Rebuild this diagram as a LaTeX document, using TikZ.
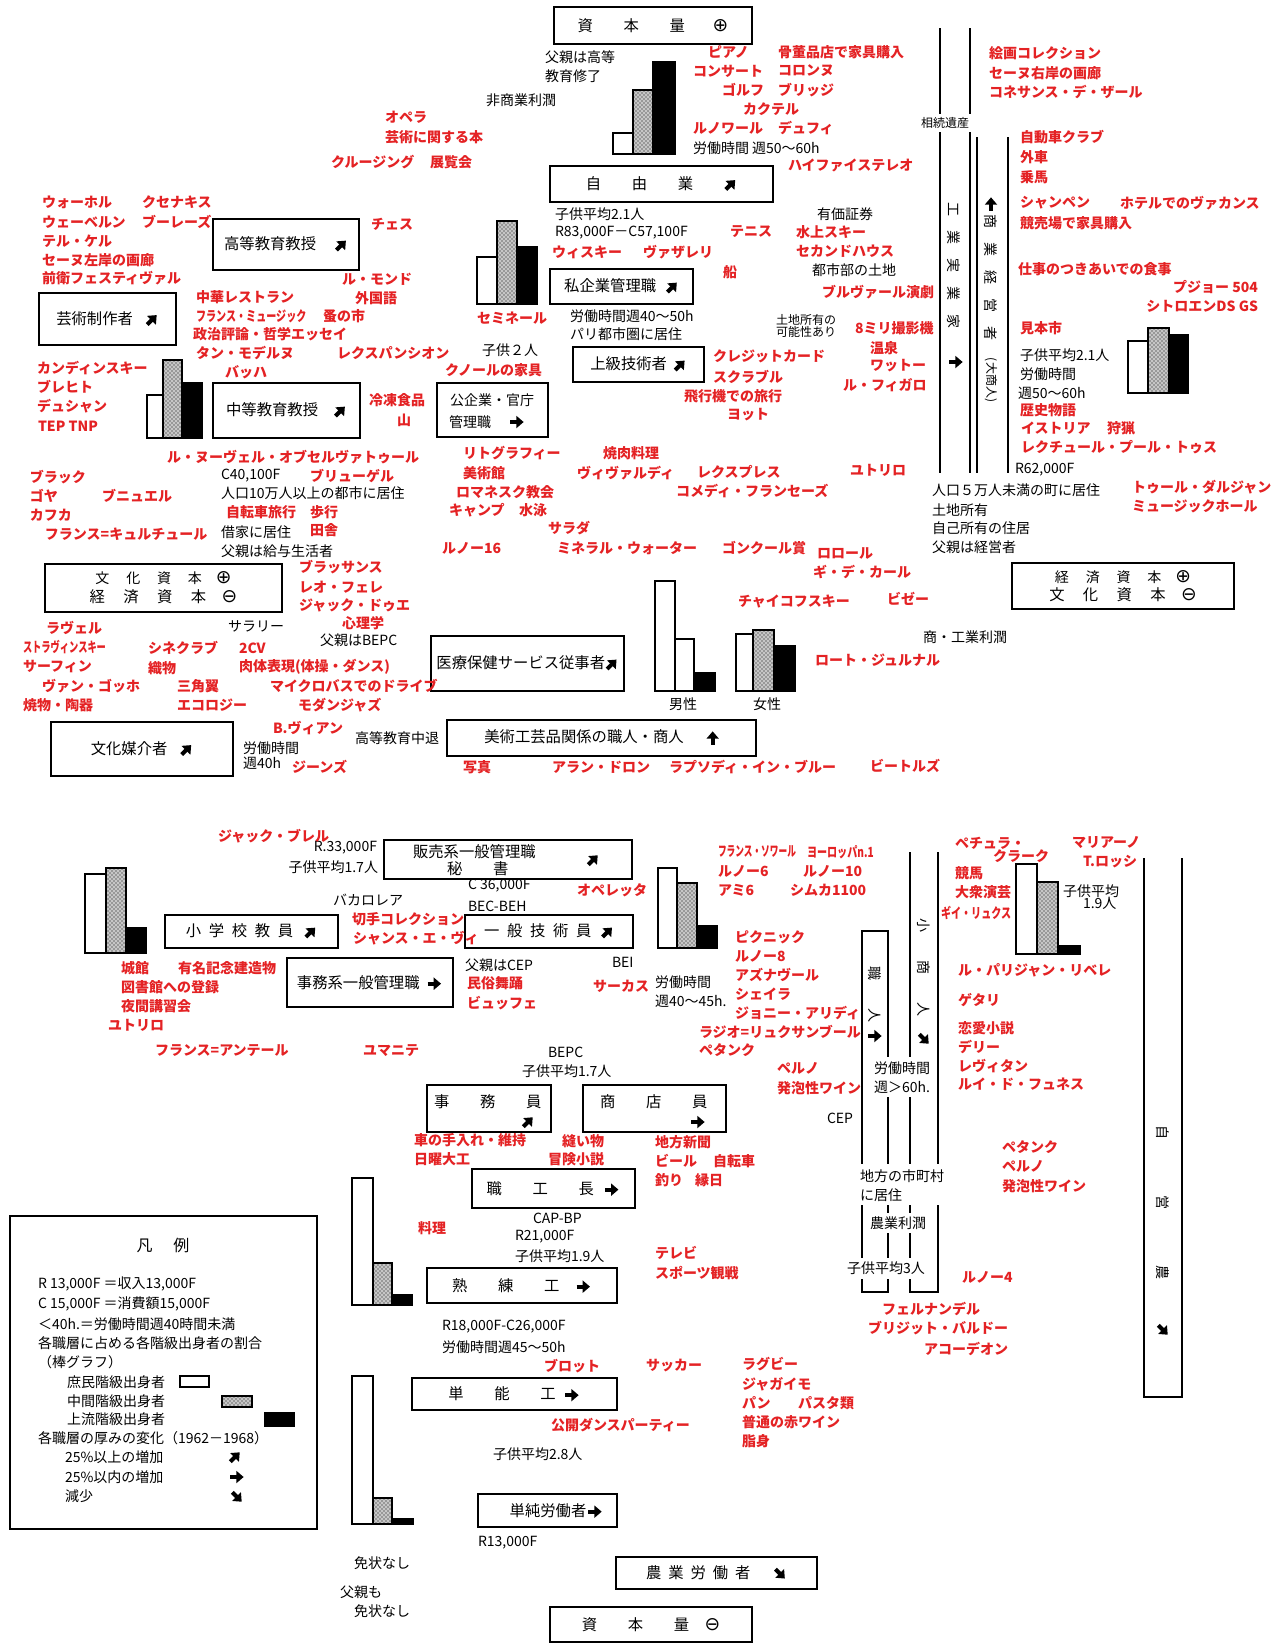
\documentclass[tikz,border=0pt]{standalone}
\usepackage{fontspec}
\setmainfont{Noto Sans CJK JP}
\newfontfamily\djv{DejaVu Sans}
\usepackage{graphicx}
\usetikzlibrary{arrows.meta,patterns}
\definecolor{jred}{RGB}{228,34,36}
\newcommand\rfont{\fontsize{10.5}{12}\selectfont\bfseries}
\newcommand\kfont{\fontsize{10.5}{12}\selectfont}
\newcommand\bxfont{\fontsize{11.5}{14}\selectfont}
\tikzset{
  every node/.style={inner sep=0pt, outer sep=0pt},
  rt/.style={anchor=west, text=jred, font=\rfont},
  kt/.style={anchor=west, text=black, font=\kfont},
  bt/.style={anchor=west, text=black, font=\bxfont},
  bx/.style={draw, line width=1.1pt, font=\bxfont, align=center},
  vlab/.style={rotate=-90, font=\kfont},
  barW/.style={draw, line width=1pt, fill=white},
  barD/.style={draw, line width=1pt, fill=gray!45, postaction={pattern=crosshatch dots}},
  barB/.style={draw, line width=1pt, fill=black},
  vl/.style={line width=1.1pt},
  fatar/.style={line width=3pt, -{Triangle[length=5.5pt,width=9pt]}, black},
  wfill/.style={fill=white, inner sep=1pt}
}
\newcommand\arNE{\tikz[baseline=-0.55ex]\draw[fatar] (225:5pt) -- (45:5pt);}
\newcommand\arE{\tikz[baseline=-0.55ex]\draw[fatar] (180:5pt) -- (0:5pt);}
\newcommand\arSE{\tikz[baseline=-0.55ex]\draw[fatar] (135:5pt) -- (-45:5pt);}
\newcommand\arN{\tikz[baseline=-0.55ex]\draw[fatar] (270:5pt) -- (90:5pt);}
\newcommand\oplu{{\djv\fontsize{14}{14}\selectfont ⊕}}
\newcommand\omin{{\djv\fontsize{14}{14}\selectfont ⊖}}
\newcounter{tn}
\newcommand\rtx[3]{\stepcounter{tn}\node[rt] (t\arabic{tn}) at (#1,#2) {#3};}
\newcommand\ktx[3]{\stepcounter{tn}\node[kt] (t\arabic{tn}) at (#1,#2) {#3};}
\newcommand\btx[3]{\stepcounter{tn}\node[bt] (t\arabic{tn}) at (#1,#2) {#3};}
\newcommand\rtxe[3]{\stepcounter{tn}\node[rt,anchor=east] (t\arabic{tn}) at (#1,#2) {#3};}
\newcommand\ktxe[3]{\stepcounter{tn}\node[kt,anchor=east] (t\arabic{tn}) at (#1,#2) {#3};}
\newcommand\ktxc[3]{\stepcounter{tn}\node[kt,anchor=center] (t\arabic{tn}) at (#1,#2) {#3};}
\newcommand\arw[3]{\stepcounter{tn}\node (a\arabic{tn}) at (#1,#2) {#3};}
\newcommand\cnd[2]{\scalebox{#1}[1]{#2}}
\newcommand\bxn[6]{\node[bx, minimum width={(#4-#2)*0.75pt}, minimum height={(#5-#3)*0.75pt}] (#1) at ({(#2+#4)/2},{(#3+#5)/2}) {#6};}
\newcommand\gap[1]{\hspace{#1em}}
\begin{document}
\begin{tikzpicture}[x=0.75pt,y=-0.75pt]
\fill[white] (0,0) rectangle (1275,1643);
\useasboundingbox (0,0) rectangle (1275,1643);

% ---------------- boxes ----------------
\bxn{capP}{554}{7}{752}{44}{資\gap2本\gap2量\gap{1.8}\oplu}
\bxn{jiyu}{550}{166}{773}{202}{自\gap2由\gap2業\gap2\arNE}
\bxn{shikig}{550}{269}{693}{304}{私企業管理職\gap{0.6}\arNE}
\bxn{koto}{213}{219}{359}{270}{高等教育教授\gap{1.2}\arNE}
\bxn{geij}{39}{293}{176}{345}{芸術制作者\gap{0.8}\arNE}
\bxn{chuto}{213}{383}{360}{438}{中等教育教授\gap{1}\arNE}
\bxn{jokyu}{573}{347}{704}{382}{上級技術者\gap{0.4}\arNE}
\bxn{koki}{437}{383}{548}{437}{}
\ktx{450}{400}{公企業・官庁}
\ktx{449}{422}{管理職}
\arw{517}{422}{\arE}
\bxn{bunkaP}{45}{564}{282}{612}{\fontsize{10.5}{19}\selectfont 文\gap{1.2}化\gap{1.2}資\gap{1.2}本\gap{1}\oplu\\ 経\gap{1.2}済\gap{1.2}資\gap{1.2}本\gap{1}\omin}
\bxn{keizaiP}{1012}{563}{1234}{609}{\fontsize{10.5}{19}\selectfont 経\gap{1.2}済\gap{1.2}資\gap{1.2}本\gap{1}\oplu\\ 文\gap{1.2}化\gap{1.2}資\gap{1.2}本\gap{1}\omin}
\bxn{iryo}{431}{636}{624}{691}{医療保健サービス従事者\arNE}
\bxn{bijutsu}{447}{720}{756}{756}{美術工芸品関係の職人・商人\gap{1.5}\arN}
\bxn{baikai}{51}{722}{233}{776}{文化媒介者\gap{0.8}\arNE}
\bxn{hanbai}{384}{840}{632}{879}{}
\btx{413}{852}{販売系一般管理職}
\btx{447}{869}{秘\gap2書}
\arw{593}{860}{\arNE}
\bxn{shogaku}{165}{915}{338}{948}{小\gap{0.5}学\gap{0.5}校\gap{0.5}教\gap{0.5}員\gap{0.7}\arNE}
\bxn{ippan}{465}{915}{633}{948}{一\gap{0.5}般\gap{0.5}技\gap{0.5}術\gap{0.5}員\gap{0.6}\arNE}
\bxn{jimukei}{287}{958}{453}{1007}{事務系一般管理職\gap{0.4}\arE}
\bxn{jimuin}{427}{1085}{551}{1132}{}
\btx{434}{1102}{事\gap2務\gap2員}
\arw{528}{1122}{\arNE}
\bxn{shoten}{583}{1085}{726}{1132}{}
\btx{600}{1102}{商\gap2店\gap2員}
\arw{698}{1122}{\arE}
\bxn{shokko}{472}{1169}{635}{1208}{職\gap2工\gap2長\gap{0.6}\arE}
\bxn{jukuren}{427}{1268}{617}{1303}{熟\gap2練\gap2工\gap1\arE}
\bxn{tanno}{412}{1378}{617}{1410}{単\gap2能\gap2工\gap{0.5}\arE}
\bxn{tanjun}{478}{1494}{617}{1527}{\gap{1.2}単純労働者\arE}
\bxn{nogyo}{616}{1557}{817}{1589}{農\gap{.45}業\gap{.45}労\gap{.45}働\gap{.45}者\gap{1.5}\arSE}
\bxn{capM}{550}{1607}{752}{1642}{資\gap2本\gap2量\gap1\omin}

% ---------------- legend ----------------
\bxn{legend}{10}{1216}{317}{1529}{}
\stepcounter{tn}\node[font=\fontsize{12}{14}\selectfont] (t\arabic{tn}) at (163,1245) {凡\gap{1.3}例};
\ktx{38}{1284}{R 13,000F ＝収入13,000F}
\ktx{38}{1304}{C 15,000F ＝消費額15,000F}
\ktx{38}{1324}{＜40h.＝労働時間週40時間未満}
\ktx{38}{1343}{各職層に占める各階級出身者の割合}
\ktx{38}{1362}{（棒グラフ）}
\ktx{67}{1382}{庶民階級出身者}
\ktx{67}{1401}{中間階級出身者}
\ktx{67}{1419}{上流階級出身者}
\draw[barW] (180,1376) rectangle (209,1387);
\draw[barD] (222,1396) rectangle (252,1407);
\draw[barB] (265,1413) rectangle (294,1426);
\ktx{38}{1438}{各職層の厚みの変化（1962－1968）}
\ktx{65}{1457}{25\%以上の増加}
\ktx{65}{1477}{25\%以内の増加}
\ktx{65}{1496}{減少}
\arw{235}{1457}{\arNE}
\arw{237}{1477}{\arE}
\arw{237}{1497}{\arSE}

% ---------------- bar charts ----------------
\draw[barW] (147,395) rectangle (163,438);
\draw[barD] (163,360) rectangle (182,438);
\draw[barB] (182,383) rectangle (202,438);
\draw[barW] (613,133) rectangle (633,154);
\draw[barD] (633,90) rectangle (653,154);
\draw[barB] (653,62) rectangle (675,154);
\draw[barW] (477,257) rectangle (497,304);
\draw[barD] (497,221) rectangle (517,304);
\draw[barB] (517,247) rectangle (537,304);
\draw[barW] (1128,341) rectangle (1148,393);
\draw[barD] (1148,328) rectangle (1169,393);
\draw[barB] (1169,335) rectangle (1188,393);
\draw[barW] (655,581) rectangle (675,691);
\draw[barW] (675,639) rectangle (694,691);
\draw[barB] (694,673) rectangle (715,691);
\draw[barW] (736,634) rectangle (753,691);
\draw[barD] (753,630) rectangle (774,691);
\draw[barB] (774,646) rectangle (795,691);
\draw[barW] (85,874) rectangle (106,953);
\draw[barD] (106,868) rectangle (126,953);
\draw[barB] (126,928) rectangle (146,953);
\draw[barW] (658,868) rectangle (677,948);
\draw[barD] (677,883) rectangle (697,948);
\draw[barB] (697,926) rectangle (717,948);
\draw[barW] (1016,864) rectangle (1037,954);
\draw[barD] (1037,882) rectangle (1058,954);
\draw[barB] (1058,946) rectangle (1080,954);
\draw[barW] (352,1178) rectangle (373,1305);
\draw[barD] (373,1263) rectangle (392,1305);
\draw[barB] (392,1295) rectangle (412,1305);
\draw[barW] (352,1376) rectangle (373,1524);
\draw[barD] (373,1498) rectangle (392,1524);
\draw[barB] (392,1519) rectangle (413,1524);

% ---------------- vertical columns ----------------
\draw[vl] (940,28) -- (940,473);
\draw[vl] (970,28) -- (970,473);
\draw[vl] (977,137) -- (977,473);
\draw[vl] (1008,137) -- (1008,473);
\fill[white] (916,114) rectangle (974,132);
\ktxc{945}{123}{\fontsize{9}{10}\selectfont 相続遺産}
\stepcounter{tn}\node[vlab] (t\arabic{tn}) at (954,265) {工　業　実　業　家};
\arw{956}{362}{\arE}
\arw{991}{204}{\arN}
\stepcounter{tn}\node[vlab] (t\arabic{tn}) at (991,277) {商　業　経　営　者};
\stepcounter{tn}\node[vlab,font=\fontsize{9}{10}\selectfont] (t\arabic{tn}) at (991,380) {(大商人)};

\draw[vl] (862,931) rectangle (888,1292);
\draw[vl] (910,852) -- (910,1292) -- (938,1292) -- (938,852);
\draw[vl] (1144,858) -- (1144,1397) -- (1182,1397) -- (1182,858);
\stepcounter{tn}\node[vlab] (t\arabic{tn}) at (875,994) {職　　人};
\arw{875}{1036}{\arE}
\stepcounter{tn}\node[vlab] (t\arabic{tn}) at (924,967) {小　　商　　人};
\arw{924}{1039}{\arSE}
\stepcounter{tn}\node[vlab] (t\arabic{tn}) at (1163,1202) {自　　　　営　　　　農};
\arw{1163}{1330}{\arSE}
\fill[white] (872,1057) rectangle (932,1097);
\ktx{874}{1068}{労働時間}
\ktx{874}{1087}{週＞60h.}
\fill[white] (856,1164) rectangle (946,1205);
\ktx{860}{1176}{地方の市町村}
\ktx{860}{1195}{に居住}
\fill[white] (867,1213) rectangle (930,1233);
\ktx{870}{1223}{農業利潤}
\fill[white] (845,1258) rectangle (926,1279);
\ktx{847}{1268}{子供平均3人}

% ---------------- black texts ----------------
\ktx{545}{57}{父親は高等}
\ktx{545}{76}{教育修了}
\ktx{486}{100}{非商業利潤}
\ktx{693}{148}{労働時間 週50～60h}
\ktx{555}{214}{子供平均2.1人}
\ktx{555}{233}{R83,000F－C57,100F}
\ktx{817}{214}{有価証券}
\ktx{812}{270}{都市部の土地}
\ktx{570}{316}{労働時間週40～50h}
\ktx{570}{334}{パリ都市圏に居住}
\stepcounter{tn}\node[kt,font=\fontsize{9}{10}\selectfont] (t\arabic{tn}) at (776,320) {土地所有の};
\stepcounter{tn}\node[kt,font=\fontsize{9}{10}\selectfont] (t\arabic{tn}) at (776,332) {可能性あり};
\ktx{482}{350}{子供２人}
\ktx{1020}{355}{子供平均2.1人}
\ktx{1020}{374}{労働時間}
\ktx{1018}{393}{週50～60h}
\ktx{1015}{470}{R62,000F}
\ktx{932}{490}{人口５万人未満の町に居住}
\ktx{932}{510}{土地所有}
\ktx{932}{528}{自己所有の住居}
\ktx{932}{547}{父親は経営者}
\ktx{221}{476}{C40,100F}
\ktx{221}{493}{人口10万人以上の都市に居住}
\ktx{221}{532}{借家に居住}
\ktx{221}{551}{父親は給与生活者}
\ktx{228}{626}{サラリー}
\ktx{320}{640}{父親はBEPC}
\ktx{355}{738}{高等教育中退}
\ktx{243}{748}{労働時間}
\ktx{243}{763}{週40h}
\ktx{923}{637}{商・工業利潤}
\ktxc{683}{704}{男性}
\ktxc{767}{704}{女性}
\ktxe{377}{848}{R.33,000F}
\ktxe{378}{867}{子供平均1.7人}
\ktx{333}{900}{バカロレア}
\ktx{468}{886}{C 36,000F}
\ktx{468}{906}{BEC-BEH}
\ktx{465}{965}{父親はCEP}
\ktx{612}{962}{BEI}
\ktx{655}{982}{労働時間}
\ktx{655}{1001}{週40～45h.}
\ktx{548}{1052}{BEPC}
\ktx{522}{1071}{子供平均1.7人}
\ktx{827}{1118}{CEP}
\ktx{533}{1218}{CAP-BP}
\ktx{515}{1237}{R21,000F}
\ktx{515}{1256}{子供平均1.9人}
\ktx{442}{1327}{R18,000F-C26,000F}
\ktx{442}{1347}{労働時間週45～50h}
\ktx{493}{1454}{子供平均2.8人}
\ktx{478}{1543}{R13,000F}
\ktx{354}{1563}{免状なし}
\ktx{340}{1592}{父親も}
\ktx{354}{1611}{免状なし}
\ktx{1063}{891}{子供平均}
\ktx{1083}{903}{1.9人}

% ---------------- red texts: top ----------------
\rtx{385}{117}{オペラ}
\rtx{385}{137}{芸術に関する本}
\rtx{331}{162}{クルージング}
\rtx{430}{162}{展覧会}
\rtx{708}{52}{ピアノ}
\rtx{778}{52}{骨董品店で家具購入}
\rtx{693}{71}{コンサート}
\rtx{778}{71}{コロンヌ}
\rtx{722}{90}{ゴルフ}
\rtx{778}{90}{ブリッジ}
\rtx{743}{109}{カクテル}
\rtx{693}{128}{ルノワール}
\rtx{778}{128}{デュフィ}
\rtx{788}{165}{ハイファイステレオ}
\rtx{989}{53}{絵画コレクション}
\rtx{989}{73}{セーヌ右岸の画廊}
\rtx{989}{92}{コネサンス・デ・ザール}
\rtx{1020}{137}{自動車クラブ}
\rtx{1020}{157}{外車}
\rtx{1020}{177}{乗馬}
\rtx{1020}{203}{シャンペン}
\rtx{1120}{203}{ホテルでのヴァカンス}
\rtx{1020}{223}{競売場で家具購入}
\rtx{1018}{269}{仕事のつきあいでの食事}
\rtxe{1258}{287}{プジョー 504}
\rtxe{1258}{306}{シトロエンDS GS}
\rtx{1020}{328}{見本市}
\rtx{1020}{410}{歴史物語}
\rtx{1021}{428}{イストリア}
\rtx{1107}{428}{狩猟}
\rtx{1021}{447}{レクチュール・プール・トゥス}
\rtx{1132}{487}{トゥール・ダルジャン}
\rtx{1132}{506}{ミュージックホール}
\rtx{42}{202}{ウォーホル}
\rtx{142}{202}{クセナキス}
\rtx{42}{222}{ウェーベルン}
\rtx{142}{222}{ブーレーズ}
\rtx{42}{241}{テル・ケル}
\rtx{42}{260}{セーヌ左岸の画廊}
\rtx{42}{278}{前衛フェスティヴァル}
\rtx{371}{224}{チェス}
\rtx{342}{279}{ル・モンド}
\rtx{355}{298}{外国語}
\rtx{196}{297}{中華レストラン}
\rtx{196}{316}{\cnd{0.72}{フランス・ミュージック}}
\rtx{323}{316}{蚤の市}
\rtx{193}{334}{政治評論・哲学エッセイ}
\rtx{196}{353}{タン・モデルヌ}
\rtx{337}{353}{レクスパンシオン}
\rtx{37}{368}{カンディンスキー}
\rtx{225}{372}{バッハ}
\rtx{37}{387}{ブレヒト}
\rtx{37}{406}{デュシャン}
\rtx{38}{426}{TEP TNP}
\rtx{369}{400}{冷凍食品}
\rtx{397}{420}{山}
\rtx{730}{232}{テニス}
\rtx{796}{232}{水上スキー}
\rtx{552}{252}{ウィスキー}
\rtx{643}{252}{ヴァザレリ}
\rtx{796}{251}{セカンドハウス}
\rtx{723}{272}{船}
\rtx{822}{292}{ブルヴァール演劇}
\rtx{477}{318}{セミネール}
\rtx{445}{370}{クノールの家具}
\rtx{713}{356}{クレジットカード}
\rtx{713}{377}{スクラブル}
\rtx{684}{396}{飛行機での旅行}
\rtx{727}{415}{ヨット}
\rtx{855}{328}{8ミリ撮影機}
\rtx{870}{348}{温泉}
\rtx{870}{366}{ワットー}
\rtx{843}{385}{ル・フィガロ}

% ---------------- red texts: middle ----------------
\rtx{167}{457}{ル・ヌーヴェル・オブセルヴァトゥール}
\rtx{30}{477}{ブラック}
\rtx{310}{476}{ブリューゲル}
\rtx{30}{496}{ゴヤ}
\rtx{102}{496}{ブニュエル}
\rtx{226}{512}{自転車旅行}
\rtx{310}{512}{歩行}
\rtx{30}{515}{カフカ}
\rtx{45}{534}{フランス=キュルチュール}
\rtx{310}{530}{田舎}
\rtx{299}{567}{ブラッサンス}
\rtx{299}{587}{レオ・フェレ}
\rtx{299}{605}{ジャック・ドゥエ}
\rtx{342}{623}{心理学}
\rtx{46}{628}{ラヴェル}
\rtx{23}{647}{\cnd{0.66}{ストラヴィンスキー}}
\rtx{148}{648}{シネクラブ}
\rtx{239}{648}{2CV}
\rtx{23}{667}{サーフィン}
\rtx{148}{668}{織物}
\rtx{239}{667}{肉体表現(体操・ダンス)}
\rtx{42}{686}{ヴァン・ゴッホ}
\rtx{177}{686}{三角翼}
\rtx{270}{686}{マイクロバスでのドライブ}
\rtx{23}{705}{焼物・陶器}
\rtx{177}{705}{エコロジー}
\rtx{298}{705}{モダンジャズ}
\rtx{273}{728}{B.ヴィアン}
\rtx{292}{767}{ジーンズ}
\rtx{463}{453}{リトグラフィー}
\rtx{603}{453}{焼肉料理}
\rtx{463}{473}{美術館}
\rtx{577}{473}{ヴィヴァルディ}
\rtx{697}{472}{レクスプレス}
\rtx{456}{492}{ロマネスク教会}
\rtx{676}{491}{コメディ・フランセーズ}
\rtx{449}{510}{キャンプ}
\rtx{519}{510}{水泳}
\rtx{548}{528}{サラダ}
\rtx{442}{548}{ルノー16}
\rtx{557}{548}{ミネラル・ウォーター}
\rtx{722}{548}{ゴンクール賞}
\rtx{817}{553}{ロロール}
\rtx{813}{572}{ギ・デ・カール}
\rtx{738}{601}{チャイコフスキー}
\rtx{887}{599}{ビゼー}
\rtx{815}{660}{ロート・ジュルナル}
\rtx{463}{767}{写真}
\rtx{552}{767}{アラン・ドロン}
\rtx{669}{767}{ラプソディ・イン・ブルー}
\rtx{870}{766}{ビートルズ}
\rtx{850}{470}{ユトリロ}

% ---------------- red texts: lower ----------------
\rtx{218}{836}{ジャック・ブレル}
\rtx{352}{919}{切手コレクション}
\rtx{353}{938}{シャンス・エ・ヴィ}
\rtx{121}{968}{城館}
\rtx{178}{968}{有名記念建造物}
\rtx{121}{987}{図書館への登録}
\rtx{121}{1006}{夜間講習会}
\rtx{108}{1025}{ユトリロ}
\rtx{155}{1051}{フランス=アンテール}
\rtx{363}{1051}{ユマニテ}
\rtx{577}{890}{オペレッタ}
\rtx{467}{983}{民俗舞踊}
\rtx{467}{1003}{ビュッフェ}
\rtx{593}{986}{サーカス}
\rtx{718}{852}{\cnd{0.62}{フランス・ソワール}}
\rtx{807}{852}{\cnd{0.72}{ヨーロッパn.1}}
\rtx{718}{871}{ルノー6}
\rtx{803}{871}{ルノー10}
\rtx{718}{890}{アミ6}
\rtx{790}{890}{シムカ1100}
\rtx{735}{937}{ピクニック}
\rtx{735}{956}{ルノー8}
\rtx{735}{975}{アズナヴール}
\rtx{735}{994}{シェイラ}
\rtx{735}{1013}{ジョニー・アリディ}
\rtx{699}{1032}{ラジオ=リュクサンブール}
\rtx{699}{1050}{ペタンク}
\rtx{777}{1068}{ペルノ}
\rtx{777}{1088}{発泡性ワイン}
\rtx{414}{1140}{車の手入れ・維持}
\rtx{414}{1159}{日曜大工}
\rtx{562}{1141}{縫い物}
\rtx{548}{1159}{冒険小説}
\rtx{655}{1142}{地方新聞}
\rtx{655}{1161}{ビール}
\rtx{713}{1161}{自転車}
\rtx{655}{1180}{釣り}
\rtx{695}{1180}{縁日}
\rtx{418}{1228}{料理}
\rtx{655}{1253}{テレビ}
\rtx{655}{1273}{スポーツ観戦}
\rtx{544}{1366}{ブロット}
\rtx{646}{1366}{サッカー}
\rtx{742}{1364}{ラグビー}
\rtx{742}{1384}{ジャガイモ}
\rtx{742}{1403}{パン}
\rtx{798}{1403}{パスタ類}
\rtx{551}{1425}{公開ダンスパーティー}
\rtx{742}{1422}{普通の赤ワイン}
\rtx{742}{1441}{脂身}
\rtx{955}{843}{ペチュラ・}
\rtx{993}{856}{クラーク}
\rtx{1072}{843}{マリアーノ}
\rtx{1083}{862}{T.ロッシ}
\rtx{955}{873}{競馬}
\rtx{955}{892}{大衆演芸}
\rtx{941}{913}{\cnd{0.72}{ギイ・リュクス}}
\rtx{958}{970}{ル・パリジャン・リベレ}
\rtx{958}{1000}{ゲタリ}
\rtx{958}{1028}{恋愛小説}
\rtx{958}{1047}{デリー}
\rtx{958}{1066}{レヴィタン}
\rtx{958}{1084}{ルイ・ド・フュネス}
\rtx{1002}{1147}{ペタンク}
\rtx{1002}{1166}{ペルノ}
\rtx{1002}{1186}{発泡性ワイン}
\rtx{962}{1277}{ルノー4}
\rtx{882}{1309}{フェルナンデル}
\rtx{868}{1328}{ブリジット・バルドー}
\rtx{924}{1349}{アコーデオン}
\end{tikzpicture}
\end{document}
